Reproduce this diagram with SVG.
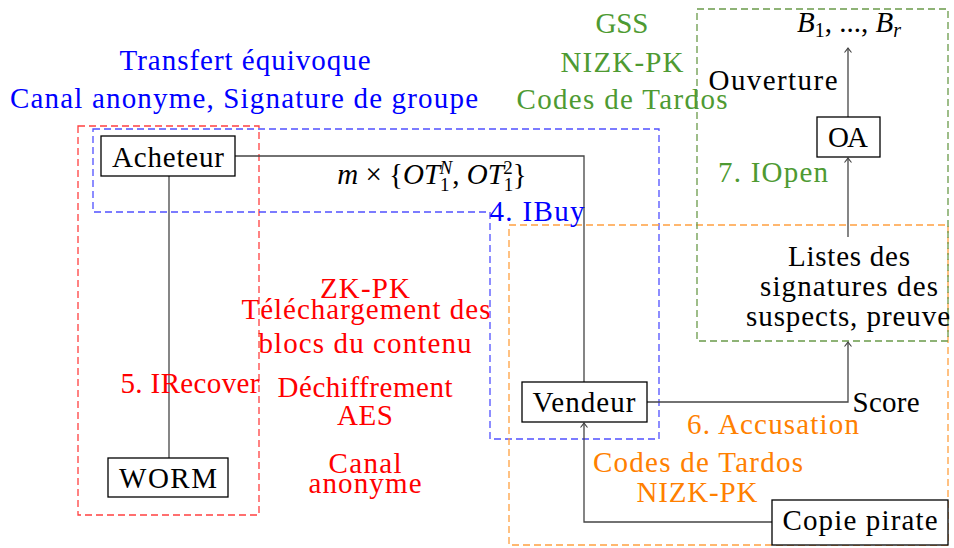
<svg xmlns="http://www.w3.org/2000/svg" width="954" height="548" viewBox="0 0 954 548" font-family="Liberation Serif">
<style>
text{font-family:Liberation Serif,serif;font-size:29px;text-anchor:middle}
.k{fill:#000}.b{fill:#0000ff}.r{fill:#ff0000}.g{fill:#4e9a32}.o{fill:#ff8000}
.box{fill:#fff;stroke:#000;stroke-width:1.3}
.zone{fill:none;stroke-width:1.3;stroke-dasharray:7 4}
.wire{fill:none;stroke:#444;stroke-width:1.3}
.m{font-style:italic}
</style>
<defs>
<marker id="arr" viewBox="-6 -5 8 10" markerWidth="8" markerHeight="10" refX="0" refY="0" orient="auto" markerUnits="userSpaceOnUse">
<path d="M-4.5,-3.5 Q-1.5,-1 0,0 Q-1.5,1 -4.5,3.5" fill="none" stroke="#444" stroke-width="1.1"/>
</marker>
</defs>
<g id="zones">
<rect class="zone" x="78" y="126" width="181" height="389" stroke="#ff4040"/>
<path class="zone" d="M93,129 H659 V439 H490 V212 H93 Z" stroke="#5050ff"/>
<rect class="zone" x="509" y="225" width="439" height="320" stroke="#ffa040"/>
<rect class="zone" x="697" y="9" width="251" height="332" stroke="#6a9a4a"/>
</g>
<g id="connectors">
<path class="wire" d="M235,156 H584 V382" stroke="#333"/>
<path class="wire" d="M169,176 V458" stroke="#333"/>
<path class="wire" d="M772,522 H584 V423" marker-end="url(#arr)"/>
<path class="wire" d="M647,402 H848 V342" marker-end="url(#arr)"/>
<path class="wire" d="M848,237 V158" marker-end="url(#arr)"/>
<path class="wire" d="M848,117 V48" marker-end="url(#arr)"/>
</g>
<g id="acheteur"><rect class="box" x="101" y="136" width="134" height="40"/><text class="k" x="168" y="167" textLength="112">Acheteur</text></g>
<g id="worm"><rect class="box" x="108" y="458" width="120" height="39" stroke="#444"/><text class="k" x="168" y="488" textLength="98">WORM</text></g>
<g id="vendeur"><rect class="box" x="522" y="382" width="125" height="40"/><text class="k" x="584" y="412" textLength="103">Vendeur</text></g>
<g id="copie"><rect class="box" x="772" y="500" width="176" height="45"/><text class="k" x="860" y="530" textLength="155">Copie pirate</text></g>
<g id="oa"><rect class="box" x="817" y="117" width="63" height="40"/><text class="k" x="848" y="147" textLength="40">OA</text></g>
<g id="listes">
<text class="k" x="849" y="266" textLength="122">Listes des</text>
<text class="k" x="849" y="296" textLength="178">signatures des</text>
<text class="k" x="848" y="326" textLength="204">suspects, preuve</text>
</g>
<g id="b-list"><text class="k" x="849" y="32"><tspan class="m">B</tspan><tspan font-size="20" dy="5">1</tspan><tspan dy="-5">, ..., </tspan><tspan class="m">B</tspan><tspan class="m" font-size="20" dy="5">r</tspan></text></g>
<g id="labels">
<text class="b" x="245" y="70" textLength="251">Transfert équivoque</text>
<text class="b" x="244" y="108" textLength="468">Canal anonyme, Signature de groupe</text>
<text class="g" x="622" y="33" textLength="53">GSS</text>
<text class="g" x="622" y="72" textLength="123">NIZK-PK</text>
<text class="g" x="622" y="109" textLength="211">Codes de Tardos</text>
<text class="k" x="773" y="90" textLength="129">Ouverture</text>
<text class="g" x="773" y="182" textLength="110">7. IOpen</text>
<text class="k" x="432" y="184"><tspan class="m">m</tspan> × {<tspan class="m">OT</tspan><tspan font-size="19" dy="7">1</tspan><tspan class="m" font-size="19" dx="-10" dy="-17">N</tspan><tspan dy="10">, </tspan><tspan class="m">OT</tspan><tspan font-size="19" dy="7">1</tspan><tspan font-size="19" dx="-10" dy="-17">2</tspan><tspan dy="10">}</tspan></text>
<text class="b" x="537" y="221" textLength="95">4. IBuy</text>
<text class="r" x="190" y="393" textLength="139">5. IRecover</text>
<text class="r" x="365" y="298" textLength="90">ZK-PK</text>
<text class="r" x="366" y="319" textLength="249">Téléchargement des</text>
<text class="r" x="365" y="353" textLength="213">blocs du contenu</text>
<text class="r" x="365" y="397" textLength="175">Déchiffrement</text>
<text class="r" x="365" y="425" textLength="56">AES</text>
<text class="r" x="365" y="473" textLength="73">Canal</text>
<text class="r" x="365" y="493" textLength="113">anonyme</text>
<text class="k" x="886" y="412" textLength="67">Score</text>
<text class="o" x="773" y="434" textLength="172">6. Accusation</text>
<text class="o" x="698" y="472" textLength="210">Codes de Tardos</text>
<text class="o" x="697" y="502" textLength="121">NIZK-PK</text>
</g>
</svg>
